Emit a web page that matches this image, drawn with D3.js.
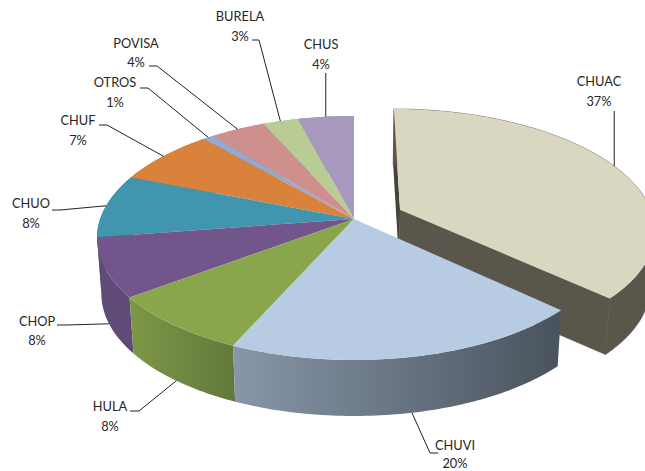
<!DOCTYPE html>
<html>
<head>
<meta charset="utf-8">
<script src="https://cdn.jsdelivr.net/npm/d3@7"></script>
<style>
html, body { margin: 0; padding: 0; background: #fff; overflow: hidden; }
svg { display: block; }
text { font-family: Lato, "Open Sans", sans-serif; font-size: 12.8px; fill: #262626; }
</style>
</head>
<body>
<div id="chart"></div>
<script>
var names = ["CHUAC", "CHUVI", "HULA", "CHOP", "CHUO", "CHUF", "OTROS", "POVISA", "BURELA", "CHUS"]
var shares = [37, 19.7, 8.1, 7.8, 8.4, 7.49, 0.81, 4, 2.6, 4.1]
var topColors = ["#d9d7c0", "#b7cce2", "#8aa64c", "#72558a", "#4295ae", "#d9823b", "#94a9d0", "#cf8f8d", "#b9cc94", "#a799bd"]
var wallLight = ["#5b564c", "#8796a9", "#7d9747", "#5f4a78", "#367c91", "#b56c30", "#7b8cad", "#ac7775", "#9aaa7b", "#8b7f9d"]
var wallDark = ["#5b564c", "#49535d", "#62783a", "#5f4a78", "#367c91", "#b56c30", "#7b8cad", "#ac7775", "#9aaa7b", "#8b7f9d"]

// label centre x, the two baselines, then the leader from the label side towards the slice
var labelX = [599, 455, 110, 37, 31, 78, 115, 136, 240, 321]
var labelY = [[86, 106], [450, 468], [411, 431], [326, 345], [208, 228], [125, 145], [87, 107], [48, 67], [21, 41], [49, 69]]
var leaders = [
    [[616, 111]],
    [[438, 453], [430, 453]],
    [[130, 411], [139, 411]],
    [[57, 325], [66, 325]],
    [[52, 210], [60, 210]],
    [[99, 125], [107, 125]],
    [[140, 88], [148, 88]],
    [[149, 66], [157, 66]],
    [[252, 40], [259, 40]],
    [[326, 73]]
]
var frontAnchored = ["CHUVI", "HULA", "CHOP"]

var width = 645, height = 471
var cx = 354, cy = 238, rx = 257, ry = 122
var depth = 56, floorScale = 0.983
var tilt = -0.156, explode = 0.2

var svg = d3.select("#chart").append("svg").attr("width", width).attr("height", height)
var defs = svg.append("defs")

var slices = d3.pie().sort(null).startAngle(0).endAngle(2 * Math.PI)(shares)
var lineGen = d3.line()

// circle coordinates -> picture, the plate is seen in perspective so the middle sits above the ellipse centre
function project(x, y, lower) {
    var den = 1 + tilt * y
    var px = x * Math.sqrt(1 - tilt * tilt) / den
    var py = (y + tilt) / den
    if (lower) return [cx + px * rx * floorScale, cy + py * ry + depth]
    return [cx + px * rx, cy + py * ry]
}

function offset_of(d) {
    if (d.index != 0) return [0, 0]
    var mid = (d.startAngle + d.endAngle) / 2
    return [explode * Math.sin(mid), -explode * Math.cos(mid)]
}

function arc_points(d, lower) {
    var off = offset_of(d)
    var n = Math.max(2, Math.ceil((d.endAngle - d.startAngle) * 60))
    return d3.range(n + 1).map(function(i) {
        var a = d.startAngle + (d.endAngle - d.startAngle) * i / n
        return project(off[0] + Math.sin(a), off[1] - Math.cos(a), lower)
    })
}

slices.forEach(function(d) {
    var grad = defs.append("linearGradient").attr("id", "wall-" + d.index)
    grad.append("stop").attr("offset", "0%").attr("stop-color", wallLight[d.index])
    grad.append("stop").attr("offset", "100%").attr("stop-color", wallDark[d.index])
})

// the pulled out slice goes first, everything else lies in front of it
var cut = slices[0]
var cutOff = offset_of(cut)
var cutTop = arc_points(cut, false)
var cutBottom = arc_points(cut, true)
var apexTop = project(cutOff[0], cutOff[1], false)
var apexBottom = project(cutOff[0], cutOff[1], true)
var g = svg.append("g")
g.append("path").attr("fill", "#47433a")
    .attr("d", lineGen([cutTop[0], apexTop, apexBottom, cutBottom[0]]) + "Z")
g.append("path").attr("fill", wallLight[0]).attr("stroke", wallLight[0]).attr("stroke-width", 0.6)
    .attr("d", lineGen([apexTop, cutTop[cutTop.length - 1], cutBottom[cutBottom.length - 1], apexBottom]) + "Z")
g.append("path").attr("fill", wallLight[0]).attr("stroke", wallLight[0]).attr("stroke-width", 0.6)
    .attr("d", lineGen(cutTop.concat(cutBottom.slice().reverse())) + "Z")
g.append("path").attr("fill", topColors[0])
    .attr("d", lineGen([apexTop].concat(cutTop)) + "Z")

// outer walls back to front, then the top faces
var rest = slices.slice(1).reverse()
g.selectAll(".wall").data(rest).enter().append("path").attr("class", "wall")
    .attr("fill", function(d) { return "url(#wall-" + d.index + ")" })
    .attr("d", function(d) {
        return lineGen(arc_points(d, false).concat(arc_points(d, true).reverse())) + "Z"
    })
g.selectAll(".face").data(rest).enter().append("path").attr("class", "face")
    .attr("fill", function(d) { return topColors[d.index] })
    .attr("d", function(d) {
        return lineGen([project(0, 0, false)].concat(arc_points(d, false))) + "Z"
    })

// leaders start on the middle of the slice edge
var lab = svg.append("g")
slices.forEach(function(d) {
    var mid = (d.startAngle + d.endAngle) / 2
    var off = offset_of(d)
    var lower = frontAnchored.indexOf(names[d.index]) != -1
    var anchor = project(off[0] + Math.sin(mid), off[1] - Math.cos(mid), lower)
    var pts = leaders[d.index].concat([anchor])
    if (pts.length == 2) pts[0] = [anchor[0], pts[0][1]]
    lab.append("path").attr("fill", "none").attr("stroke", "#222").attr("stroke-width", 1)
        .attr("d", lineGen(pts))
    var t = lab.append("text").attr("text-anchor", "middle")
    t.append("tspan").attr("x", labelX[d.index]).attr("y", labelY[d.index][0]).text(names[d.index])
    t.append("tspan").attr("x", labelX[d.index]).attr("y", labelY[d.index][1]).text(Math.round(shares[d.index]) + "%")
})
</script>
</body>
</html>
